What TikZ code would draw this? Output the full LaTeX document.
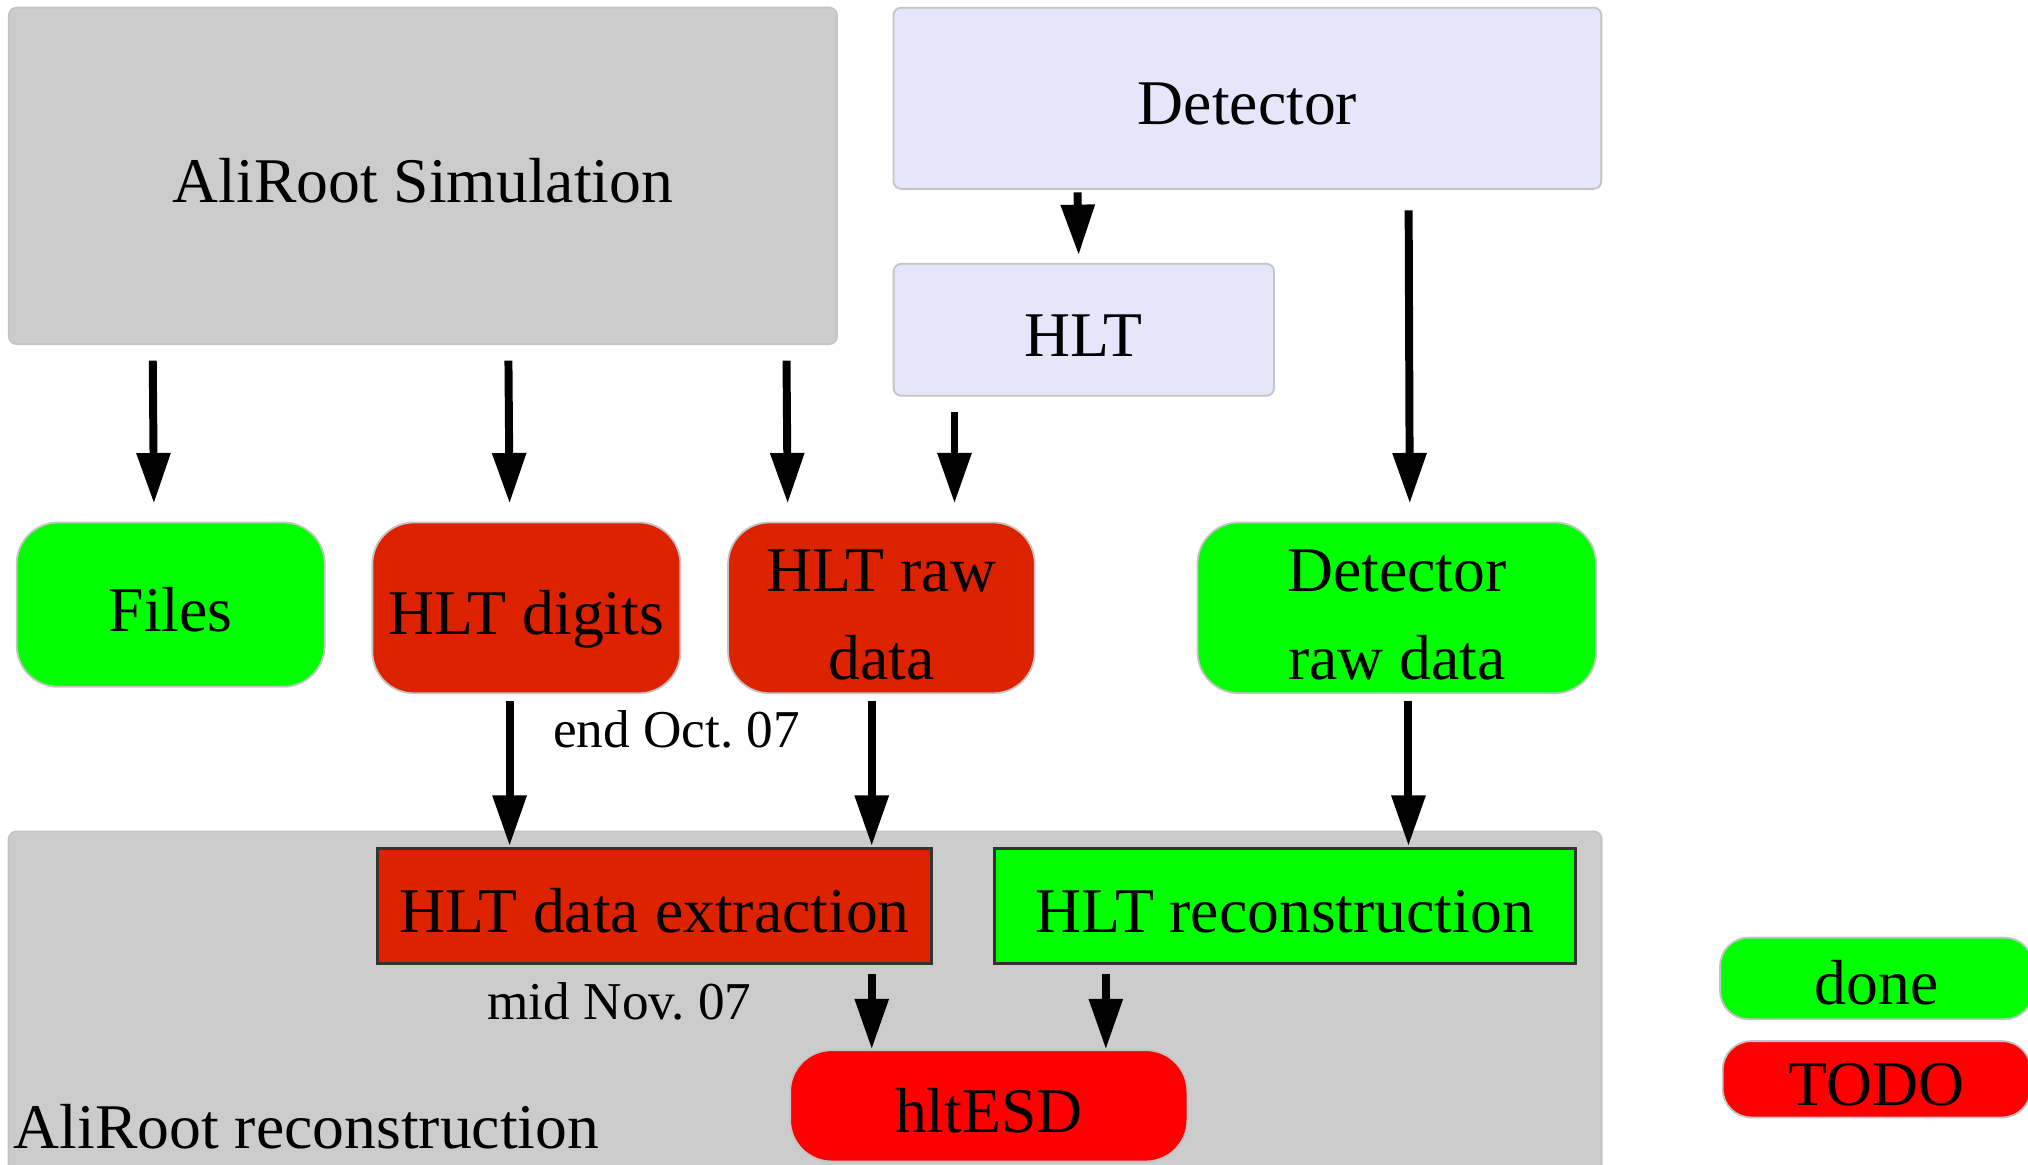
\documentclass[tikz,border=0pt]{standalone}
\usepackage{fontspec}
\setmainfont{Liberation Serif}
\usetikzlibrary{arrows.meta,calc}
\definecolor{grn}{HTML}{00FF00}
\definecolor{dred}{HTML}{DD2200}
\definecolor{bred}{HTML}{FF0000}
\definecolor{clgray}{HTML}{CCCCCC}
\definecolor{lav}{HTML}{E6E6FA}
\definecolor{edgegray}{HTML}{C4C4C4}
\frenchspacing
\begin{document}
\begin{tikzpicture}[x=0.01cm,y=0.01cm,
 every node/.style={font=\fontsize{14}{19.3}\selectfont, inner sep=0pt, text=black,
   text height=0.5cm, text depth=0.09cm},
 cluster/.style={fill=clgray, draw=edgegray, line width=0.4pt, rounded corners=0.06cm},
 lavbox/.style={fill=lav, draw=edgegray, line width=0.4pt, rounded corners=0.06cm},
 rnode/.style={draw=edgegray, line width=0.4pt, rounded corners=0.32cm, align=center},
 twoline/.style={text height=1.2cm, text depth=0.09cm},
 rect/.style={draw=black!80, line width=0.5pt},
 note/.style={font=\fontsize{11.7}{14}\selectfont, text height=0.28cm, text depth=0.02cm},
 arr/.style={line width=1.75pt, -{Triangle[length=0.39cm,width=0.25cm]}}
]
\useasboundingbox (0,0) rectangle (1568,900);
% clusters
\node[cluster, minimum width=6.4cm, minimum height=2.6cm] (sim) at (327,764) {AliRoot Simulation};
\node[cluster, minimum width=12.31cm, minimum height=2.77cm] (recocl) at (622.5,118.5) {};
\node[anchor=base west, text height=, text depth=] (recolabel) at (10,12) {AliRoot reconstruction};
% detector side
\node[lavbox, minimum width=5.47cm, minimum height=1.4cm] (det) at (964.5,824) {Detector};
\node[lavbox, minimum width=2.94cm, minimum height=1.02cm] (hlt) at (838,645) {HLT};
% data nodes
\node[rnode, fill=grn, minimum width=2.38cm, minimum height=1.27cm] (files) at (132,432.5) {Files};
\node[rnode, fill=dred, minimum width=2.38cm, minimum height=1.32cm] (digits) at (407,430) {HLT digits};
\node[rnode, twoline, fill=dred, minimum width=2.37cm, minimum height=1.32cm] (raw) at (681.5,430) {HLT raw\\data};
\node[rnode, twoline, fill=grn, minimum width=3.08cm, minimum height=1.32cm] (detraw) at (1080,430) {Detector\\raw data};
% reconstruction nodes
\node[rect, fill=dred, minimum width=4.28cm, minimum height=0.89cm] (extr) at (506,199.5) {HLT data extraction};
\node[rect, fill=grn, minimum width=4.49cm, minimum height=0.89cm] (reco) at (993.5,199.5) {HLT reconstruction};
\node[rnode, fill=bred, minimum width=3.07cm, minimum height=0.86cm] (esd) at (764.5,45) {hltESD};
% legend
\node[rnode, rounded corners=0.22cm, fill=grn, minimum width=2.42cm, minimum height=0.63cm] (done) at (1451,143.5) {done};
\node[rnode, rounded corners=0.22cm, fill=bred, minimum width=2.38cm, minimum height=0.57cm] (todo) at (1451,65.5) {TODO};
% notes
\node[note] (oct) at (523,335) {end Oct. 07};
\node[note] (nov) at (479,125) {mid Nov. 07};
% arrows
\draw[arr] ($(sim.south west)+(112,-12)$) -- ($(files.north)+(-13,14)$);
\draw[arr] ($(sim.south west)+(387,-12)$) -- ($(digits.north)+(-13,14)$);
\draw[arr] ($(sim.south west)+(602,-12)$) -- ($(raw.north)+(-72.5,14)$);
\draw[arr] ($(hlt.south)+(-100,-12)$) -- ($(raw.north)+(56.5,14)$);
\draw[arr] ($(det.south west)+(143,-2)$) -- ($(hlt.north)+(-4,6)$);
\draw[arr] ($(det.south west)+(399,-16)$) -- ($(detraw.north)+(10,14)$);
\draw[arr] ($(digits.south)+(-13,-5)$) -- ($(extr.north)+(-112,1)$);
\draw[arr] ($(raw.south)+(-7.5,-5)$) -- ($(extr.north)+(168,1)$);
\draw[arr] ($(detraw.south)+(9,-5)$) -- ($(reco.north)+(95.5,1)$);
\draw[arr] ($(extr.south)+(168,-7)$) -- ($(esd.north)+(-90.5,0)$);
\draw[arr] ($(reco.south)+(-138.5,-7)$) -- ($(esd.north)+(90.5,0)$);
\end{tikzpicture}
\end{document}
